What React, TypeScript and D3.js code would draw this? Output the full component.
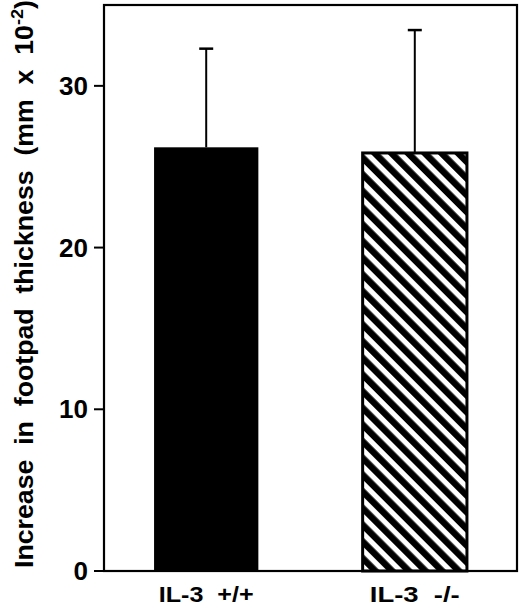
import React from 'react'
import * as d3 from 'd3'

// Values
const categories = ['IL-3  +/+', 'IL-3  -/-']
const means = [26.2, 25.85]
const errors = [6.1, 7.6]
const fills = ['solid', 'hatch']
const yTicks = [0, 10, 20, 30]

const W = 520
const H = 608
const margin = { top: 5, right: 3, bottom: 37, left: 104 }
const FONT = 'Arial, "Liberation Sans", Helvetica, sans-serif'

export default function App() {
  const x = d3.scaleBand<string>()
    .domain(categories)
    .range([margin.left, W - margin.right])
    .paddingInner(0.5)
    .paddingOuter(0.24)

  const y = d3.scaleLinear()
    .domain([0, 35])
    .range([H - margin.bottom, margin.top])

  const capW = 14

  return (
    <svg
      width={W}
      height={H}
      style={{ position: 'absolute', left: 0, top: 0, background: 'white', fontFamily: FONT }}
    >
      <defs>
        <pattern
          id="hatch"
          patternUnits="userSpaceOnUse"
          width={11.8}
          height={11.8}
          patternTransform="rotate(-45)"
        >
          <rect width={11.8} height={11.8} fill="white" />
          <rect width={6.6} height={11.8} fill="black" />
        </pattern>
      </defs>

      {/* bars */}
      {categories.map((c, i) => {
        const bx = x(c)!
        const top = y(means[i])
        const cx = bx + x.bandwidth() / 2
        return (
          <g key={c}>
            <line x1={cx} x2={cx} y1={top} y2={y(means[i] + errors[i])} stroke="black" strokeWidth={2} />
            <line
              x1={cx - capW / 2}
              x2={cx + capW / 2}
              y1={y(means[i] + errors[i])}
              y2={y(means[i] + errors[i])}
              stroke="black"
              strokeWidth={2.5}
            />
            <rect
              x={bx}
              y={top}
              width={x.bandwidth()}
              height={y(0) - top}
              fill={fills[i] === 'solid' ? 'black' : 'url(#hatch)'}
              stroke="black"
              strokeWidth={fills[i] === 'solid' ? 0 : 3}
            />
          </g>
        )
      })}

      {/* frame */}
      <rect
        x={margin.left}
        y={margin.top}
        width={W - margin.left - margin.right}
        height={H - margin.top - margin.bottom}
        fill="none"
        stroke="black"
        strokeWidth={2.2}
      />

      {/* y ticks */}
      {yTicks.map(t => (
        <g key={t}>
          <line x1={margin.left - 10} x2={margin.left} y1={y(t)} y2={y(t)} stroke="black" strokeWidth={2} />
          <text
            x={margin.left - 16}
            y={y(t)}
            textAnchor="end"
            dominantBaseline="central"
            fontSize={26}
            fontWeight="bold"
          >
            {t}
          </text>
        </g>
      ))}

      {/* category labels */}
      {categories.map(c => (
        <text
          key={c}
          x={x(c)! + x.bandwidth() / 2}
          y={602}
          textAnchor="middle"
          fontSize={22}
          fontWeight="bold"
          textLength={c.includes('+') ? 95 : 90}
          lengthAdjust="spacingAndGlyphs"
          style={{ whiteSpace: 'pre' }}
        >
          {c}
        </text>
      ))}

      {/* y axis title */}
      <text
        transform="translate(33,284) rotate(-90)"
        textAnchor="middle"
        fontSize={25}
        fontWeight="bold"
        textLength={568}
        lengthAdjust="spacingAndGlyphs"
        style={{ whiteSpace: 'pre' }}
      >
        {'Increase  in  footpad  thickness  (mm  x  10'}
        <tspan dy={-10} fontSize={17}>-2</tspan>
        <tspan dy={10}>)</tspan>
      </text>
    </svg>
  )
}
